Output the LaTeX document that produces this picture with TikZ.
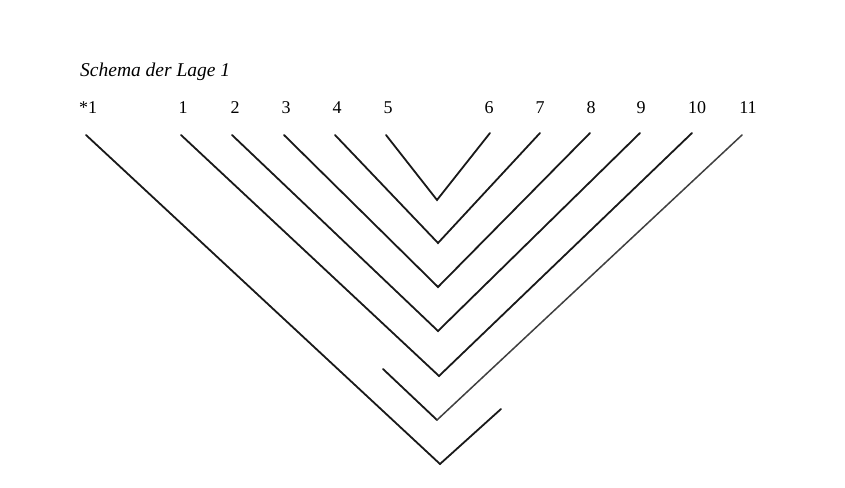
\documentclass[tikz,border=0pt]{standalone}
\usepackage{fontspec}
\setmainfont{Liberation Serif}
\begin{document}
\begin{tikzpicture}[x=1pt,y=-1pt,
  lab/.style={anchor=base,inner sep=0pt,font=\fontsize{18}{21}\selectfont},
  leaf/.style={line width=1.8pt,line cap=round,line join=miter,black!90}]
\useasboundingbox[fill=white] (0,0) rectangle (845,487);
\node[anchor=base west,inner sep=0pt,font=\fontsize{19.5}{23}\selectfont\itshape] (title) at (80,77) {Schema der Lage 1};
% labels
\node[lab] (l0) at (88,113) {*1};
\node[lab] (l1) at (183,113) {1};
\node[lab] (l2) at (235,113) {2};
\node[lab] (l3) at (286,113) {3};
\node[lab] (l4) at (337,113) {4};
\node[lab] (l5) at (388,113) {5};
\node[lab] (l6) at (489,113) {6};
\node[lab] (l7) at (540,113) {7};
\node[lab] (l8) at (591,113) {8};
\node[lab] (l9) at (641,113) {9};
\node[lab] (l10) at (697,113) {10};
\node[lab] (l11) at (748,113) {11};
% line ends
\coordinate (s0) at (86,135);
\coordinate (s1) at (181,135);
\coordinate (s2) at (232,135);
\coordinate (s3) at (284,135);
\coordinate (s4) at (335,135);
\coordinate (s5) at (386,135);
\coordinate (e6) at (490,133);
\coordinate (e7) at (540,133);
\coordinate (e8) at (590,133);
\coordinate (e9) at (640,133);
\coordinate (e10) at (692,133);
\coordinate (e11) at (742,135);
\coordinate (v5) at (437,200);
\coordinate (v4) at (438,243);
\coordinate (v3) at (438,287);
\coordinate (v2) at (438,331);
\coordinate (v1) at (439,376);
\coordinate (v11) at (437,420);
\coordinate (v0) at (440,464);
\coordinate (stub) at (383,369);
\coordinate (e0) at (501,409);
% leaves
\draw[leaf] (s5) -- (v5) -- (e6);
\draw[leaf] (s4) -- (v4) -- (e7);
\draw[leaf] (s3) -- (v3) -- (e8);
\draw[leaf] (s2) -- (v2) -- (e9);
\draw[leaf] (s1) -- (v1) -- (e10);
\draw[leaf] (stub) -- (v11);
\draw[leaf,line width=1.5pt,black!75] (v11) -- (e11);
\draw[leaf] (s0) -- (v0) -- (e0);
\end{tikzpicture}
\end{document}
